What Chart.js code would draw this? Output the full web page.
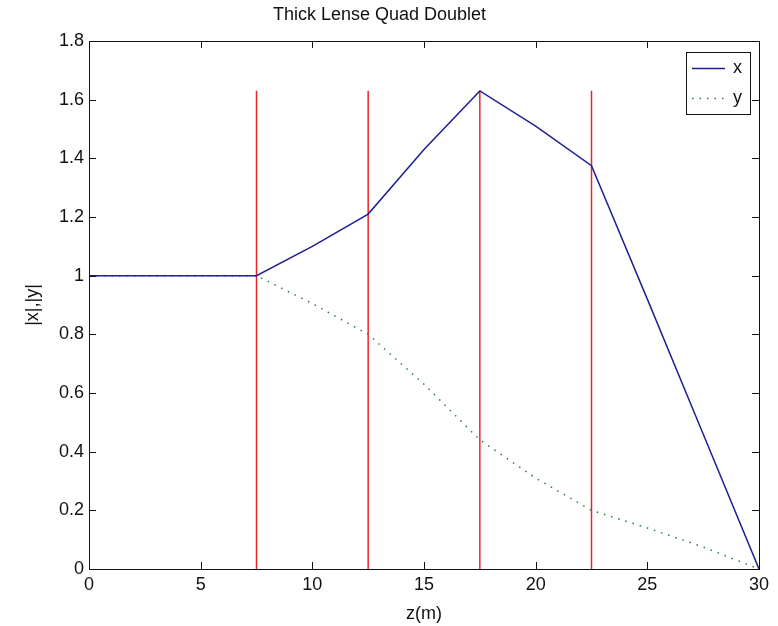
<!DOCTYPE html>
<html>
<head>
<meta charset="utf-8">
<title>Thick Lense Quad Doublet</title>
<script src="https://cdn.jsdelivr.net/npm/chart.js@4.4.1/dist/chart.umd.min.js"></script>
<style>
  html, body { margin: 0; padding: 0; background: #fff; }
  #wrap { width: 778px; height: 626px; }
</style>
</head>
<body>
<div id="wrap"><canvas id="lensChart"></canvas></div>
<script>
// data
const zPoints = [0, 7.5, 10, 12.5, 15, 17.5, 20, 22.5, 25, 27.5, 30];
const xVals   = [1, 1, 1.10, 1.21, 1.43, 1.63, 1.51, 1.375, 0.92, 0.46, 0];
const yVals   = [1, 1, 0.905, 0.80, 0.63, 0.44, 0.31, 0.20, 0.14, 0.075, 0];
const quadPositions = [7.5, 12.5, 17.5, 22.5];
const quadTop = 1.63;
const xTicks = [0, 5, 10, 15, 20, 25, 30];
const yTicks = [0, 0.2, 0.4, 0.6, 0.8, 1, 1.2, 1.4, 1.6, 1.8];

const FONT = "'Liberation Sans', Arial, sans-serif";
const FSIZE = 18;
const INK = '#111';

const toPts = (xs, ys) => xs.map((v, i) => ({ x: v, y: ys[i] }));

const datasets = [
  {
    label: 'x',
    data: toPts(zPoints, xVals),
    borderColor: '#1f1f95',
    borderWidth: 1.5,
    showLine: true,
    pointRadius: 0,
    tension: 0
  },
  {
    label: 'y',
    data: toPts(zPoints, yVals),
    borderColor: '#2a7a48',
    borderWidth: 1.5,
    borderDash: [1.5, 6],
    showLine: true,
    pointRadius: 0,
    tension: 0
  }
];
quadPositions.forEach(q => {
  datasets.push({
    label: 'quad',
    data: [{ x: q, y: 0 }, { x: q, y: quadTop }],
    borderColor: '#e8262e',
    borderWidth: 1.5,
    showLine: true,
    pointRadius: 0,
    legendSkip: true
  });
});

// matlab style box with inward ticks
const boxPlugin = {
  id: 'matlabBox',
  afterDraw(chart) {
    const { ctx, chartArea: a, scales } = chart;
    const len = 7;
    ctx.save();
    ctx.strokeStyle = INK;
    ctx.lineWidth = 1;
    ctx.strokeRect(a.left + 0.5, a.top + 0.5, a.right - a.left, a.bottom - a.top);
    ctx.beginPath();
    xTicks.forEach(t => {
      const px = Math.round(scales.x.getPixelForValue(t)) + 0.5;
      ctx.moveTo(px, a.bottom); ctx.lineTo(px, a.bottom - len);
      ctx.moveTo(px, a.top); ctx.lineTo(px, a.top + len);
    });
    yTicks.forEach(t => {
      const py = Math.round(scales.y.getPixelForValue(t)) + 0.5;
      ctx.moveTo(a.left, py); ctx.lineTo(a.left + len, py);
      ctx.moveTo(a.right, py); ctx.lineTo(a.right - len, py);
    });
    ctx.stroke();

    // legend
    const L = 686, R = 750, T = 52, B = 114;
    ctx.fillStyle = '#fff';
    ctx.fillRect(L, T, R - L, B - T);
    ctx.strokeRect(L + 0.5, T + 0.5, R - L, B - T);
    const rows = [68, 98];
    ctx.font = FSIZE + 'px ' + FONT;
    ctx.textBaseline = 'middle';
    ctx.textAlign = 'left';
    chart.data.datasets.filter(d => !d.legendSkip).forEach((d, i) => {
      ctx.save();
      ctx.strokeStyle = d.borderColor;
      ctx.lineWidth = d.borderWidth;
      ctx.setLineDash(d.borderDash || []);
      ctx.beginPath();
      ctx.moveTo(L + 6, rows[i] + 0.5);
      ctx.lineTo(725, rows[i] + 0.5);
      ctx.stroke();
      ctx.restore();
      ctx.fillStyle = INK;
      ctx.fillText(d.label, 733, rows[i]);
    });
    ctx.restore();
  }
};

new Chart(document.getElementById('lensChart'), {
  type: 'scatter',
  data: { datasets },
  options: {
    responsive: true,
    maintainAspectRatio: false,
    animation: false,
    layout: { padding: { top: 0, right: 19, left: 0, bottom: 0 } },
    plugins: {
      legend: { display: false },
      tooltip: { enabled: false },
      title: {
        display: true,
        text: 'Thick Lense Quad Doublet',
        color: INK,
        font: { family: FONT, size: FSIZE, weight: 'normal' },
        padding: { top: 4, bottom: 15.4 }
      }
    },
    scales: {
      x: {
        type: 'linear',
        min: 0, max: 30,
        afterBuildTicks: s => { s.ticks = xTicks.map(v => ({ value: v })); },
        afterFit: s => { s.height = 57; },
        grid: { display: false, drawTicks: false },
        border: { display: false },
        ticks: { color: INK, padding: 5, font: { family: FONT, size: FSIZE }, callback: v => String(v) },
        title: {
          display: true, text: 'z(m)', color: INK,
          font: { family: FONT, size: FSIZE },
          padding: { top: 0, bottom: 1 }
        }
      },
      y: {
        type: 'linear',
        min: 0, max: 1.8,
        afterBuildTicks: s => { s.ticks = yTicks.map(v => ({ value: v })); },
        afterFit: s => { s.width = 89; },
        grid: { display: false, drawTicks: false },
        border: { display: false },
        ticks: { color: INK, padding: 5, font: { family: FONT, size: FSIZE }, callback: v => String(v) },
        title: {
          display: true, text: '|x|,|y|', color: INK,
          font: { family: FONT, size: FSIZE },
          padding: { top: 22, bottom: 0 }
        }
      }
    }
  },
  plugins: [boxPlugin]
});
</script>
</body>
</html>
